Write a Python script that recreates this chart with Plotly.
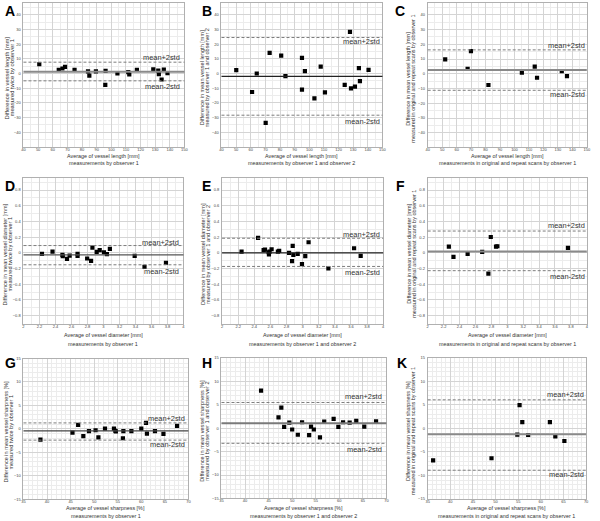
import plotly.graph_objects as go

# ---------------- data ----------------
# Panel A: vessel length, observer 1 twice
A_avg = [50.8, 64.1, 66.6, 68.4, 74.9, 84.1, 85.0, 89.5, 95.9, 96.1, 104.2, 111.6, 112.3, 117.5, 128.7, 132.1, 132.5, 134.4, 135.9, 138.4]
A_diff = [6.3, 2.5, 3.4, 4.5, 2.5, 1.4, -1.4, 1.4, -7.7, 1.8, 0.0, 0.9, -0.7, 2.5, 2.9, 2.0, -0.5, -4.1, 2.7, 0.2]
A_limits = [1.1, 7.7, -5.0]  # mean, mean+2std, mean-2std

# Panel B: vessel length, observer 1 vs observer 2
B_avg = [50.1, 60.9, 64.1, 70.2, 72.9, 80.8, 83.7, 95.0, 95.0, 97.0, 103.5, 107.8, 110.7, 124.2, 127.8, 128.5, 131.2, 133.9, 134.6, 140.5]
B_diff = [2.3, -12.6, 0.0, -33.6, 14.0, 12.2, -1.8, 10.6, -11.0, 1.6, -16.9, 4.7, -12.8, -7.7, 28.4, -10.1, -9.0, 3.6, -5.2, 2.5]
B_limits = [-2.0, 24.5, -28.4]

# Panel C: vessel length, original vs repeat scans
C_avg = [52.1, 67.6, 69.9, 82.0, 105.1, 114.0, 115.6, 132.7, 136.3]
C_diff = [9.7, 3.4, 15.3, -7.6, 0.7, 4.9, -2.7, 1.8, -1.6]
C_limits = [2.5, 16.2, -11.2]

# Panel D: vessel diameter, observer 1 twice
D_avg = [2.231, 2.363, 2.487, 2.491, 2.544, 2.577, 2.676, 2.676, 2.796, 2.845, 2.862, 2.915, 2.953, 3.006, 3.043, 3.080, 3.390, 3.513, 3.781]
D_diff = [-0.013, 0.017, -0.025, -0.042, -0.076, -0.034, -0.013, -0.038, -0.072, -0.101, 0.067, 0.013, 0.034, 0.008, -0.017, 0.051, -0.038, -0.177, -0.126]
D_limits = [-0.025, 0.093, -0.152]

# Panel E: vessel diameter, observer 1 vs observer 2
E_avg = [2.242, 2.447, 2.516, 2.533, 2.578, 2.582, 2.590, 2.615, 2.693, 2.709, 2.832, 2.869, 2.877, 2.885, 2.939, 2.992, 3.033, 3.074, 3.320, 3.639, 3.721]
E_diff = [0.017, 0.190, 0.034, 0.042, 0.008, -0.021, 0.017, 0.046, 0.017, 0.025, 0.000, -0.105, 0.089, -0.025, -0.013, -0.143, -0.042, 0.135, -0.198, 0.059, -0.038]
E_limits = [0.0, 0.186, -0.173]

# Panel F: vessel diameter, original vs repeat scans
F_avg = [2.266, 2.324, 2.502, 2.685, 2.763, 2.793, 2.859, 2.876, 3.763]
F_diff = [0.080, -0.051, -0.013, 0.013, -0.265, 0.202, 0.080, 0.084, 0.063]
F_limits = [0.017, 0.278, -0.227]

# Panel G: vessel sharpness, observer 1 twice
G_avg = [38.6, 45.4, 46.6, 47.7, 48.9, 50.3, 50.9, 52.3, 54.2, 54.5, 54.6, 56.1, 56.2, 57.9, 60.0, 61.0, 61.2, 62.9, 64.7, 67.6]
G_diff = [-2.3, -0.8, 0.85, -1.55, -0.5, -0.3, -1.8, 0.07, 0.07, -0.4, -0.56, -2.0, -0.5, -0.5, 0.07, 1.27, -1.0, -0.5, -1.06, 0.63]
G_limits = [-0.42, 1.27, -2.4]

# Panel H: vessel sharpness, observer 1 vs observer 2
H_avg = [43.4, 47.1, 47.7, 48.3, 49.4, 50.0, 51.2, 52.1, 53.6, 54.0, 54.6, 55.9, 56.8, 58.8, 59.8, 60.8, 62.2, 63.6, 65.3, 67.8]
H_diff = [8.0, 2.3, 4.4, 0.28, 1.2, -0.28, -1.4, 1.26, -1.47, 0.35, -0.28, -1.97, 1.4, 2.0, 0.28, 1.26, 1.2, 1.54, 0.35, 1.47]
H_limits = [1.05, 5.48, -3.23]

# Panel K: vessel sharpness, original vs repeat scans
K_avg = [36.2, 49.1, 54.8, 55.3, 55.9, 57.2, 62.0, 63.2, 65.2]
K_diff = [-6.8, -6.35, -1.34, 4.94, 1.34, -1.41, 1.34, -1.69, -2.68]
K_limits = [-1.27, 6.07, -8.9]

# tick labels
len_xticks = [40, 50, 60, 70, 80, 90, 100, 110, 120, 130, 140, 150]
len_yticks = [-40, -30, -20, -10, 0, 10, 20, 30, 40]
dia_xticks = [2, 2.2, 2.4, 2.6, 2.8, 3, 3.2, 3.4, 3.6, 3.8, 4]
dia_yticks = [-0.8, -0.6, -0.4, -0.2, 0, 0.2, 0.4, 0.6, 0.8]
shp_xticks = [35, 40, 45, 50, 55, 60, 65, 70]
shp_yticks = [-15, -10, -5, 0, 5, 10, 15]

letters = ["A", "B", "C", "D", "E", "F", "G", "H", "K"]

xtitle1 = ["Average of vessel length [mm]"] * 3 + ["Average of vessel diameter [mm]"] * 3 + ["Average of vessel sharpness [%]"] * 3
xtitle2 = ["measurements by observer 1", "measurements by observer 1 and observer 2",
           "measurements in original and repeat scans by observer 1"] * 3
ytitle1 = ["Difference in vessel length [mm]", "Difference in mean vessel length [mm]", "Difference in mean vessel length [mm]",
           "Difference in mean vessel diameter [mm]", "Difference in mean vessel diameter [mm]", "Difference in mean vessel diameter [mm]",
           "Difference in mean vessel sharpness [%]", "Difference in mean vessel sharpness [%]", "Difference in mean vessel sharpness [%]"]
ytitle2 = ["measured twice by observer 1", "measured by observer 1 and observer 2",
           "measured in original and repeat scans by observer 1"] * 3

# ---------------- layout / style ----------------
W, H = 600, 521
FONT = "Liberation Sans, Arial, sans-serif"

data = [(A_avg, A_diff, A_limits), (B_avg, B_diff, B_limits), (C_avg, C_diff, C_limits),
        (D_avg, D_diff, D_limits), (E_avg, E_diff, E_limits), (F_avg, F_diff, F_limits),
        (G_avg, G_diff, G_limits), (H_avg, H_diff, H_limits), (K_avg, K_diff, K_limits)]

# plot-area pixel boxes: (left, right, top, bottom)
boxes = [(21.7, 184.3, 0.0, 145.3), (221.7, 384.3, 0.0, 145.3), (430.0, 590.7, 0.0, 145.9),
         (21.7, 183.3, 177.0, 324.0), (222.3, 385.0, 177.0, 324.0), (430.0, 590.7, 177.0, 324.0),
         (21.7, 188.3, 359.0, 501.0), (221.7, 388.3, 358.3, 500.3), (430.0, 590.0, 358.3, 500.7)]
xranges = [[40, 150]] * 3 + [[2, 4]] * 3 + [[35, 70]] * 3
yranges = [[-50, 48]] * 3 + [[-0.905, 0.95]] * 3 + [[-15, 15]] * 3
xticks = [len_xticks] * 3 + [dia_xticks] * 3 + [shp_xticks] * 3
yticks = [len_yticks] * 3 + [dia_yticks] * 3 + [shp_yticks] * 3
minor_x = [5] * 3 + [0.1] * 3 + [1] * 3
minor_y = [5] * 3 + [0.1] * 3 + [1] * 3
xt_rows = [(154.5, 161.8)] * 3 + [(335.5, 344.0)] * 3 + [(509.5, 517.5)] * 3
yt_x = [(4.6, 9.6), (202.4, 207.4), (410.6, 415.6), (3.4, 8.4), (203.0, 208.0), (410.8, 415.8),
        (3.8, 8.8), (202.6, 207.6), (410.8, 415.8)]
ytitle_size = [5.8, 5.6, 5.5, 5.6, 5.6, 5.5, 5.6, 5.6, 5.5]
letter_pos = [(8.5, 8), (207, 8), (402.5, 8), (8, 185), (207, 185), (402.5, 185), (8.5, 363.5), (207, 363.5), (404, 363.5)]
# label offsets (px) for mean+2std / mean-2std, right-edge shift
up_shift = [5, -4.3, 4.3, 3.3, 4, 5.3, 4.3, 5.7, 5]
lo_shift = [-6, -6, -4, -6.3, -5.7, -6, -4.3, -6.3, -4.3]
right_shift = [-2.6, -0.6, 0, -2.3, -1, 0, -1, -2.6, 0]
mean_style = [("#8a8a8a", 2.0), ("#222222", 1.2), ("#8a8a8a", 2.0),
              ("#555555", 1.3), ("#222222", 1.2), ("#8a8a8a", 2.0),
              ("#444444", 1.3), ("#7a7a7a", 1.8), ("#8a8a8a", 2.0)]


def fx(px):
    return px / W


def fy(py):
    return 1 - py / H


fig = go.Figure()
layout = dict(width=W, height=H, margin=dict(l=0, r=0, t=0, b=0, pad=0), paper_bgcolor="white",
              plot_bgcolor="white", showlegend=False, font=dict(family=FONT, color="#333"))
annotations = []
shapes = []

for i in range(9):
    n = "" if i == 0 else str(i + 1)
    xa, ya = "x" + n, "y" + n
    xs, ys, lim = data[i]
    l, r, t, b = boxes[i]
    fig.add_trace(go.Scatter(x=xs, y=ys, mode="markers", xaxis=xa, yaxis=ya,
                             marker=dict(symbol="square", size=4.2, color="black")))
    common = dict(showgrid=True, gridcolor="#d4d4d4", gridwidth=0.8, zeroline=False,
                  showline=True, mirror=True, linecolor="#b0b0b0", linewidth=1,
                  ticks="", tickfont=dict(size=4, color="#444", family=FONT), fixedrange=True)
    layout["xaxis" + n] = dict(common, domain=[fx(l), fx(r)], range=xranges[i], anchor=ya,
                               tickmode="array", tickvals=xticks[i], ticklabelstandoff=-2,
                               minor=dict(tickmode="linear", tick0=xranges[i][0], dtick=minor_x[i],
                                          showgrid=True, gridcolor="#ececec", gridwidth=0.6))
    layout["yaxis" + n] = dict(common, domain=[fy(b), fy(t)], range=yranges[i], anchor=xa,
                               tickmode="array", tickvals=yticks[i], ticklabelstandoff=1,
                               minor=dict(tickmode="linear", tick0=0, dtick=minor_y[i],
                                          showgrid=True, gridcolor="#ececec", gridwidth=0.6))
    mc, mw = mean_style[i]
    shapes.append(dict(type="line", xref=xa + " domain", yref=ya, x0=0, x1=1, y0=lim[0], y1=lim[0],
                       line=dict(color=mc, width=mw)))
    for v in lim[1:]:
        shapes.append(dict(type="line", xref=xa + " domain", yref=ya, x0=0, x1=1, y0=v, y1=v,
                           line=dict(color="#7d7d7d", width=1, dash="3px,2px")))
    annotations.append(dict(text="mean+2std", xref=xa + " domain", yref=ya, x=1, y=lim[1],
                            xanchor="right", yanchor="middle", xshift=right_shift[i], yshift=up_shift[i],
                            showarrow=False, font=dict(size=7.4, color="#333", family=FONT)))
    annotations.append(dict(text="mean-2std", xref=xa + " domain", yref=ya, x=1, y=lim[2],
                            xanchor="right", yanchor="middle", xshift=right_shift[i], yshift=lo_shift[i],
                            showarrow=False, font=dict(size=7.4, color="#333", family=FONT)))
    # x titles
    cx = (l + r) / 2
    for txt, py in ((xtitle1[i], xt_rows[i][0]), (xtitle2[i], xt_rows[i][1])):
        annotations.append(dict(text=txt, xref="paper", yref="paper", x=fx(cx), y=fy(py),
                                xanchor="center", yanchor="middle", showarrow=False,
                                font=dict(size=5.4, color="#333", family=FONT)))
    # y titles
    cy = (t + b) / 2 + 3
    for txt, px in ((ytitle1[i], yt_x[i][0]), (ytitle2[i], yt_x[i][1])):
        annotations.append(dict(text=txt, xref="paper", yref="paper", x=fx(px), y=fy(cy),
                                xanchor="center", yanchor="middle", textangle=-90, showarrow=False,
                                font=dict(size=ytitle_size[i], color="#333", family=FONT)))
    # panel letter
    lx, ly = letter_pos[i]
    annotations.append(dict(text="<b>" + letters[i] + "</b>", xref="paper", yref="paper",
                            x=fx(lx), y=fy(ly), xanchor="center", yanchor="middle", showarrow=False,
                            font=dict(size=14, color="black", family="Liberation Sans, Arial, sans-serif")))

layout["annotations"] = annotations
layout["shapes"] = shapes
fig.update_layout(**layout)
fig.write_html("out.html", config={"displayModeBar": False},
               post_script="document.body.style.margin='0';document.body.style.overflow='hidden';")
